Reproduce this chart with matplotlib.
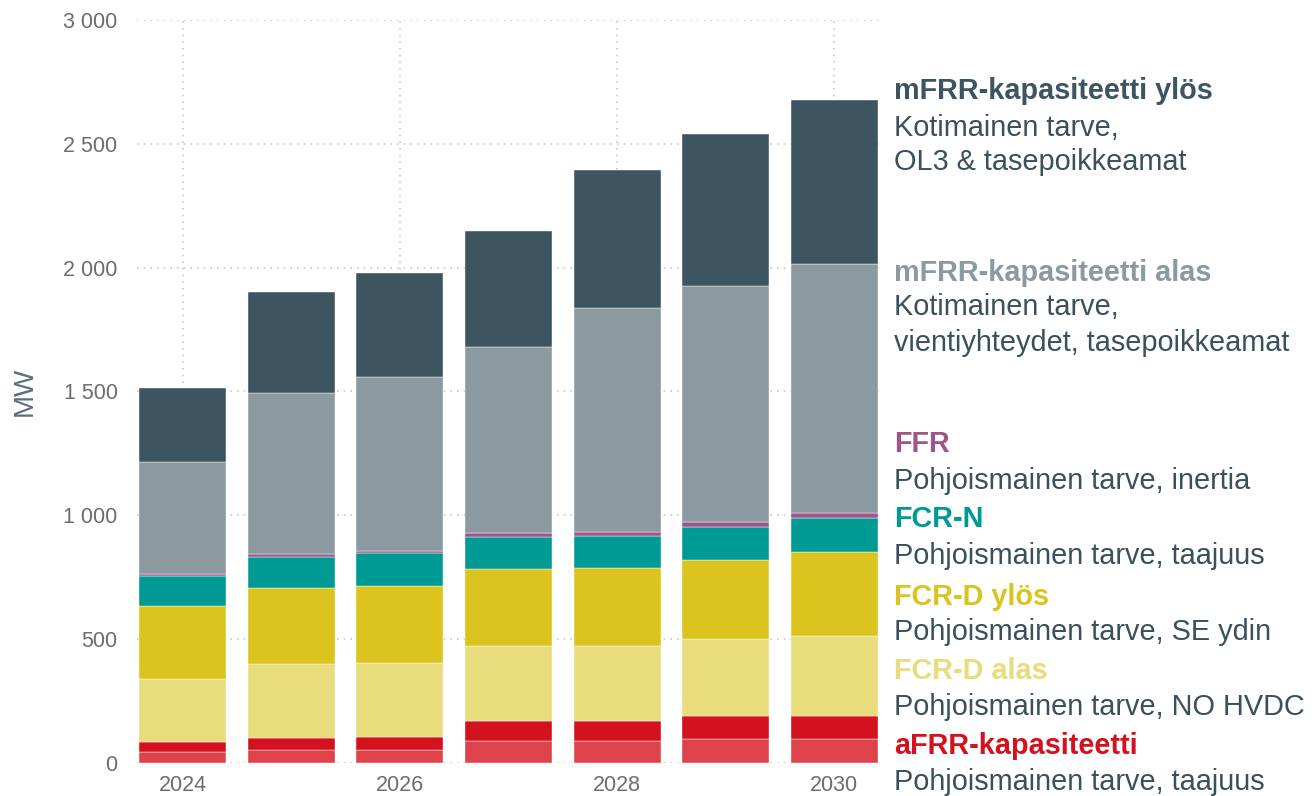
import numpy as np
import matplotlib
matplotlib.use('Agg')
from matplotlib import pyplot as plt
from matplotlib.ticker import FuncFormatter

plt.rcParams['font.family'] = ['Liberation Sans', 'DejaVu Sans']

years = [2024, 2025, 2026, 2027, 2028, 2029, 2030]

# MW, luettu kuvasta (alhaalta ylös)
afrr_a = [44, 52, 54, 88, 88, 96, 96]
afrr_b = [40, 48, 51, 83, 83, 95, 95]
fcrd_alas = [255, 300, 300, 301, 301, 308, 323]
fcrd_ylos = [295, 305, 311, 311, 314, 321, 336]
fcrn = [121, 128, 130, 129, 130, 134, 138]
ffr = [8, 9, 11, 16, 18, 20, 22]
mfrr_alas = [452, 652, 701, 751, 903, 952, 1005]
mfrr_ylos = [299, 407, 420, 469, 557, 613, 662]

series = [afrr_a, afrr_b, fcrd_alas, fcrd_ylos, fcrn, ffr, mfrr_alas, mfrr_ylos]
colors = ['#de434b', '#d4111f', '#e8dc7c', '#dcc41f', '#009a94', '#a0558a', '#8a9aa0', '#3d5560']

text_col = '#3a505a'

fig = plt.figure(figsize=(13.14, 7.96), dpi=100)
ax = fig.add_axes([0.1043, 0.0415, 0.5654, 0.9334])

bottom = np.zeros(len(years))
for vals, c in zip(series, colors):
    ax.bar(years, vals, width=0.8, bottom=bottom, color=c, edgecolor='white', linewidth=0.3, zorder=3)
    bottom += np.array(vals)

ax.set_xlim(2023.58, 2030.42)
ax.set_ylim(0, 3000)
ax.set_xticks([2024, 2026, 2028, 2030])
ax.set_yticks([0, 500, 1000, 1500, 2000, 2500, 3000])
ax.yaxis.set_major_formatter(FuncFormatter(lambda v, p: f"{v:,.0f}".replace(",", " ")))
ax.grid(True, color='#c8c8c8', linestyle=(0, (1, 3)), linewidth=1.2, zorder=0)
for s in ax.spines.values():
    s.set_visible(False)
ax.tick_params(length=0, labelsize=15.5, labelcolor='#6d6d6d')
ax.tick_params(axis='y', pad=14)
ax.tick_params(axis='x', pad=9)
ax.set_ylabel('MW', fontsize=20, color='#5a6e78', labelpad=18)

# selitteet oikealla
x0 = 894 / 1314
def txt(y, s, col=text_col, bold=False):
    fig.text(x0, 1 - y / 796, s, fontsize=20.8, color=col, va='center', ha='left',
             fontweight='bold' if bold else 'normal')

txt(91, 'mFRR-kapasiteetti ylös', '#3d5560', True)
txt(128, 'Kotimainen tarve,')
txt(162, 'OL3 & tasepoikkeamat')
txt(273, 'mFRR-kapasiteetti alas', '#8a9aa0', True)
txt(307, 'Kotimainen tarve,')
txt(343, 'vientiyhteydet, tasepoikkeamat')
txt(444, 'FFR', '#a0558a', True)
txt(481, 'Pohjoismainen tarve, inertia')
txt(519, 'FCR-N', '#009a94', True)
txt(556, 'Pohjoismainen tarve, taajuus')
txt(597, 'FCR-D ylös', '#dcc41f', True)
txt(632, 'Pohjoismainen tarve, SE ydin')
txt(671, 'FCR-D alas', '#e8dc7c', True)
txt(707, 'Pohjoismainen tarve, NO HVDC')
txt(746, 'aFRR-kapasiteetti', '#d4111f', True)
txt(782, 'Pohjoismainen tarve, taajuus')

fig.savefig('out.png', dpi=100)
